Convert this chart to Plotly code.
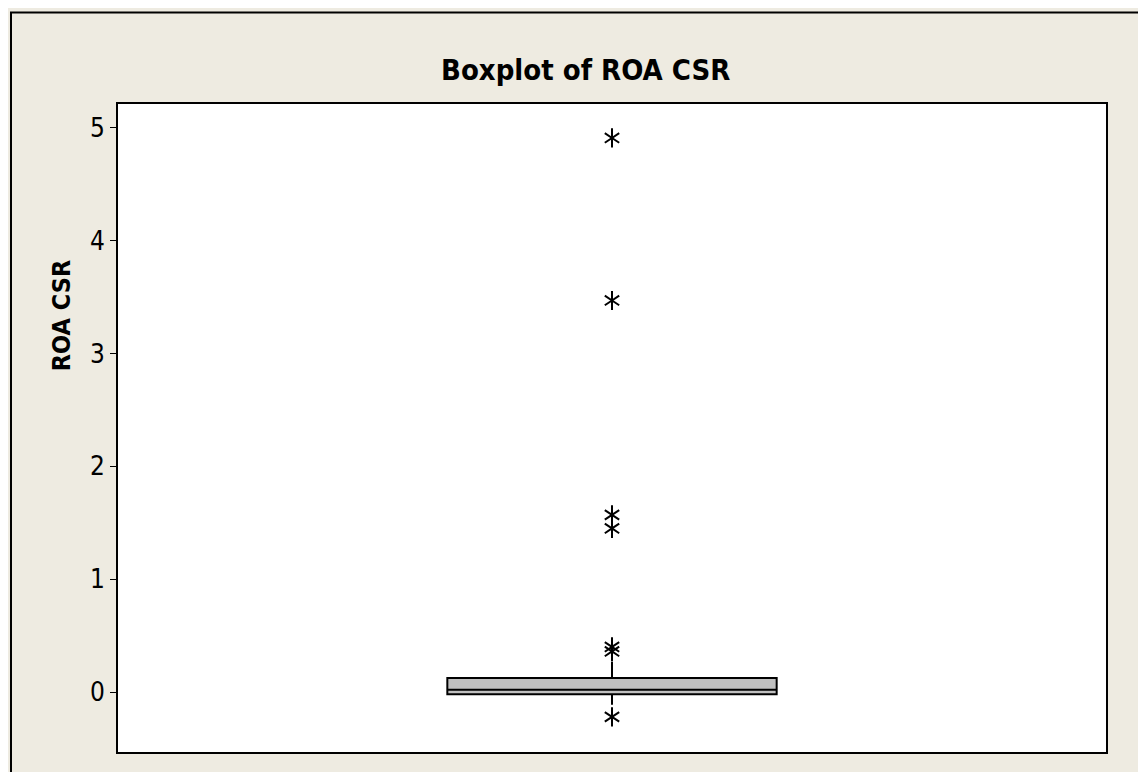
import plotly.graph_objects as go

# Box summary
q1 = [-0.02]
median = [0.02]
q3 = [0.124]
lower_fence = [-0.112]
upper_fence = [0.271]

# Outliers drawn as asterisks
outliers = [4.91, 3.47, 1.57, 1.45, 0.40, 0.36, -0.22]

y_ticks = [0, 1, 2, 3, 4, 5]

FONT = "DejaVu Sans Condensed, DejaVu Sans, sans-serif"
PAPER_BG = "#EEEBE1"

fig = go.Figure()

fig.add_trace(go.Box(
    x=[0],
    q1=q1,
    median=median,
    q3=q3,
    lowerfence=lower_fence,
    upperfence=upper_fence,
    width=1,
    whiskerwidth=0,
    boxpoints=False,
    fillcolor="#C0C0C0",
    line=dict(color="black", width=2),
    showlegend=False,
))

# Minitab-style 6-spoke asterisk = y-up + y-down overlaid
for sym in ["y-up-open", "y-down-open"]:
    fig.add_trace(go.Scatter(
        x=[0] * len(outliers),
        y=outliers,
        mode="markers",
        marker=dict(symbol=sym, size=12, color="black",
                    line=dict(color="black", width=2)),
        showlegend=False,
        hoverinfo="y",
    ))

# page body has an 8px margin, so margins are shifted by 8px
fig.update_layout(
    width=1146,
    height=772,
    margin=dict(l=110, r=48, t=96, b=28),
    paper_bgcolor=PAPER_BG,
    plot_bgcolor="white",
    font=dict(family=FONT, color="black", size=26),
    xaxis=dict(
        range=[-1.5, 1.5],
        showticklabels=False,
        ticks="",
        showgrid=False,
        zeroline=False,
        showline=True,
        linecolor="black",
        linewidth=2,
        mirror=True,
    ),
    yaxis=dict(
        range=[-0.531, 5.211],
        tickvals=y_ticks,
        ticks="outside",
        ticklen=6,
        tickwidth=1,
        tickcolor="black",
        showgrid=False,
        zeroline=False,
        showline=True,
        linecolor="black",
        linewidth=2,
        mirror=True,
        tickfont=dict(size=26),
    ),
    annotations=[
        dict(text="<b>Boxplot of ROA CSR</b>", xref="paper", yref="paper",
             x=0.4727, y=1.0525, xanchor="center", yanchor="middle",
             showarrow=False, font=dict(size=29)),
        dict(text="<b>ROA CSR</b>", xref="paper", yref="paper",
             x=-0.0577, y=0.674, xanchor="center", yanchor="middle",
             textangle=-90, showarrow=False, font=dict(size=25)),
    ],
    shapes=[
        dict(type="rect", xref="paper", yref="paper",
             x0=-0.1083, y0=-0.2, x1=1.2, y1=1.1412,
             line=dict(color="black", width=2), layer="below"),
    ],
)

fig.write_html("out.html")
